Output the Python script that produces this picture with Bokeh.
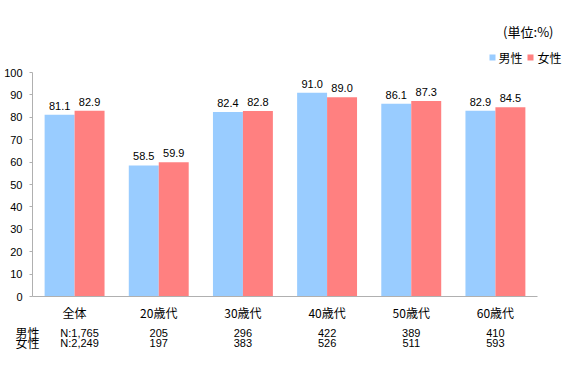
from bokeh.plotting import figure
from bokeh.models import ColumnDataSource, Range1d, FixedTicker, LinearAxis
from bokeh.core.properties import value
from bokeh.embed import file_html
from bokeh.resources import INLINE

categories = ["全体", "20歳代", "30歳代", "40歳代", "50歳代", "60歳代"]
male = [81.1, 58.5, 82.4, 91.0, 86.1, 82.9]
female = [82.9, 59.9, 82.8, 89.0, 87.3, 84.5]
n_male = ["N:1,765", "205", "296", "422", "389", "410"]
n_female = ["N:2,249", "197", "383", "526", "511", "593"]
y_ticks = list(range(0, 101, 10))

MALE_C = "#99CCFF"
FEMALE_C = "#FF8080"
JP = "Noto Sans CJK JP"
NUM = "Liberation Sans"

OX, OY = 0, 0          # observed page offset of the canvas
W, H = 564, 382

# reference pixel geometry of the plot frame
X0, X1 = 32, 537       # axis x extent
Y0, Y100 = 296, 72     # y of 0 and 100
ppx = (X1 - X0) / 6.0
ppy = (Y0 - Y100) / 100.0

def xs(sx):
    return (sx - X0) / ppx

def ys(sy):
    return (Y0 - sy) / ppy

p = figure(width=W, height=H, output_backend="svg", toolbar_location=None,
           x_axis_type=None, y_axis_type=None,
           x_range=Range1d(xs(OX), xs(OX + W)), y_range=Range1d(ys(OY + H), ys(OY)),
           min_border=0)
p.outline_line_color = None
p.grid.visible = False

centers = [i + 0.5 for i in range(len(categories))]
bw = 0.356
src = ColumnDataSource(dict(
    xm=[c - bw / 2 for c in centers], xf=[c + bw / 2 for c in centers],
    male=male, female=female,
    lm=[f"{v:.1f}" for v in male], lf=[f"{v:.1f}" for v in female]))
p.vbar(x="xm", top="male", width=bw, bottom=0, source=src, fill_color=MALE_C, line_color=None)
p.vbar(x="xf", top="female", width=bw, bottom=0, source=src, fill_color=FEMALE_C, line_color=None)
p.text(x="xm", y="male", text="lm", source=src, text_align="center", text_baseline="bottom",
       y_offset=-5, text_font=value(NUM), text_font_size="11px", text_color="#000000")
p.text(x="xf", y="female", text="lf", source=src, text_align="center", text_baseline="bottom",
       y_offset=-5, text_font=value(NUM), text_font_size="11px", text_color="#000000")

# y axis
ya = LinearAxis(fixed_location=0, bounds=(0, 100), ticker=FixedTicker(ticks=y_ticks))
ya.axis_line_color = "#b0b0b0"
ya.major_tick_line_color = "#b0b0b0"
ya.major_tick_out = 3
ya.major_tick_in = 0
ya.minor_tick_line_color = None
ya.major_label_standoff = 7
ya.major_label_text_font = NUM
ya.major_label_text_font_size = "11px"
ya.major_label_text_color = "#000000"
p.add_layout(ya, "left")

# x axis
xa = LinearAxis(fixed_location=0, bounds=(0, 6), ticker=FixedTicker(ticks=centers))
xa.major_label_overrides = {c: categories[i] for i, c in enumerate(centers)}
xa.axis_line_color = "#b0b0b0"
xa.major_tick_line_color = None
xa.minor_tick_line_color = None
xa.major_label_standoff = 1
xa.major_label_text_font = JP
xa.major_label_text_font_size = "12px"
xa.major_label_text_color = "#000000"
p.add_layout(xa, "below")

# sample size rows
nsrc = ColumnDataSource(dict(x=centers, xoff=[5, 0, 0, 0, 0, 0],
                             ym=[ys(332)] * 6, yf=[ys(342)] * 6, nm=n_male, nf=n_female))
p.text(x="x", y="ym", text="nm", x_offset="xoff", source=nsrc, text_align="center",
       text_baseline="middle", text_font=value(NUM), text_font_size="11px", text_color="#000000")
p.text(x="x", y="yf", text="nf", x_offset="xoff", source=nsrc, text_align="center",
       text_baseline="middle", text_font=value(NUM), text_font_size="11px", text_color="#000000")
p.text(x=[xs(27), xs(27)], y=[ys(332), ys(342)], text=["男性", "女性"], text_align="center",
       text_baseline="middle", text_font=value(JP), text_font_size="12px", text_color="#000000")

# unit note
p.text(x=[xs(553)], y=[ys(31)], text=["(単位:%)"], text_align="right", text_baseline="middle",
       text_font=value(JP), text_font_size="13px", text_color="#000000")

# legend
p.scatter(x=[xs(492), xs(530)], y=[ys(57), ys(57)], marker="square", size=6,
          fill_color=[MALE_C, FEMALE_C], line_color=None)
p.text(x=[xs(498), xs(537)], y=[ys(57), ys(57)], text=["男性", "女性"], text_align="left",
       text_baseline="middle", text_font=value(JP), text_font_size="12px", text_color="#000000")

open("out.html", "w").write(file_html(p, INLINE))
